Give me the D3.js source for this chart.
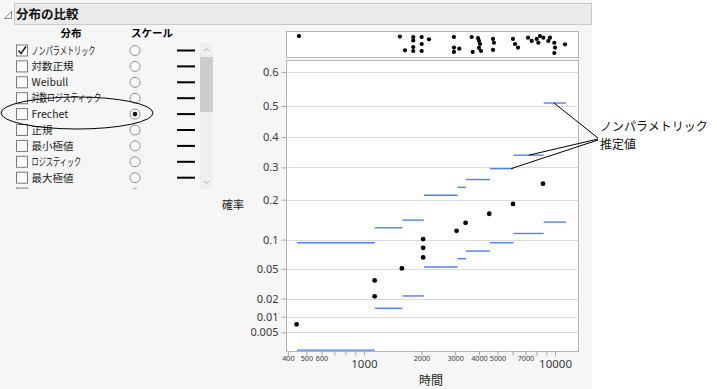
<!DOCTYPE html>
<html>
<head>
<meta charset="utf-8">
<script src="https://cdn.jsdelivr.net/npm/d3@7"></script>
<style>
body { margin: 0; background: #fff; }
svg { display: block; font-family: "Noto Sans CJK JP", "Noto Sans", sans-serif; }
</style>
</head>
<body>
<script>
var W = 717, H = 389;

// left panel
var distNames = ["ノンパラメトリック", "対数正規", "Weibull", "対数ロジスティック", "Frechet", "正規", "最小極値", "ロジスティック", "最大極値", "指数"];
var distChecked = [true, false, false, false, false, false, false, false, false, false];
var scaleChoice = "Frechet";

// plot data
var eventTimes = [444, 1138, 1138, 1580, 2042, 2042, 2042, 3054, 3404, 4526, 6026, 8650];
var eventProb  = [0.0072, 0.0216, 0.036, 0.0506, 0.0669, 0.0838, 0.101, 0.119, 0.138, 0.161, 0.188, 0.248];

var stepTimes = [446, 1140, 1590, 2060, 3090, 3420, 4560, 6070, 8720, 11420];
var upperBand = [0.0935, 0.126, 0.1446, 0.213, 0.237, 0.261, 0.296, 0.340, 0.509];
var lowerBand = [0.002, 0.014, 0.0219, 0.0525, 0.0649, 0.0778, 0.0935, 0.113, 0.1397];

var stripTimes  = [457, 1543, 1640, 1812, 1812, 1812, 1812, 2005, 2005, 2005, 2189, 2959, 2959, 2959, 3155, 3664, 3708,
                   3954, 4000, 4050, 4000, 4100, 4736, 4793, 4736, 6026, 6174, 6403, 7222, 7551, 8022, 8178, 8346, 8684,
                   9224, 9415, 9915, 10000, 9915, 11280];
var stripJitter = [0.06, 0.09, 0.85, 0.11, 0.3, 0.67, 0.89, 0.11, 0.5, 0.89, 0.24, 0.11, 0.7, 0.94, 0.76, 0.11, 0.94,
                   0.17, 0.33, 0.5, 0.72, 0.89, 0.22, 0.43, 0.83, 0.22, 0.5, 0.7, 0.15, 0.33, 0.22, 0.43, 0.06, 0.15,
                   0.33, 0.15, 0.43, 0.7, 1.0, 0.52];

var yTicks = [0.005, 0.01, 0.02, 0.05, 0.1, 0.2, 0.3, 0.4, 0.5, 0.6];
var xTicks = [400, 500, 600, 700, 800, 900, 1000, 2000, 3000, 4000, 5000, 6000, 7000, 8000, 9000, 10000];
var xTickLabels = ["400", "500", "600", "", "", "", "1000", "2000", "3000", "4000", "5000", "", "7000", "", "", "10000"];
var xMajor = [1000, 10000];

var calloutTimes = [9880, 7300, 5890];
var calloutProb  = [0.509, 0.34, 0.296];

var plot = { left: 286, right: 578, top: 60, bottom: 351 };
var strip = { top: 31, bottom: 57 };

var svg = d3.select("body").append("svg")
    .attr("width", W)
    .attr("height", H);

svg.append("rect").attr("width", W).attr("height", H).attr("fill", "#fff");
svg.append("rect").attr("width", 592).attr("height", H).attr("fill", "#f6f6f6");

// header bar
svg.append("rect")
    .attr("x", 14.5).attr("y", 3.5).attr("width", 577).attr("height", 21)
    .attr("fill", "#ebebeb").attr("stroke", "#c9c9c9");
svg.append("path")
    .attr("d", "M4.5,18.5 L11.5,18.5 L11.5,11.5 Z")
    .attr("fill", "none").attr("stroke", "#8a8a8a");
svg.append("text")
    .attr("x", 16).attr("y", 19)
    .attr("font-size", 12.5).attr("font-weight", "bold").attr("fill", "#111")
    .text("分布の比較");

// distribution list
var panel = svg.append("g");
panel.append("text").attr("x", 71).attr("y", 37).attr("text-anchor", "middle")
    .attr("font-size", 10.5).attr("font-weight", "bold").text("分布");
panel.append("text").attr("x", 152).attr("y", 37).attr("text-anchor", "middle")
    .attr("font-size", 10.5).attr("font-weight", "bold").text("スケール");

svg.append("clipPath").attr("id", "listClip")
    .append("rect").attr("x", 0).attr("y", 40).attr("width", 200).attr("height", 149);

var rowY = d3.scaleLinear().domain([0, 1]).range([50.5, 66.4]);

var rows = panel.append("g").attr("clip-path", "url(#listClip)")
    .selectAll("g")
    .data(distNames)
    .enter()
    .append("g")
    .attr("transform", function(d, i) { return "translate(0," + rowY(i) + ")"; });

rows.append("rect")
    .attr("x", 16.5).attr("y", -5.5).attr("width", 11).attr("height", 11)
    .attr("fill", "#fff").attr("stroke", "#7a7a7a");
rows.filter(function(d, i) { return distChecked[i]; })
    .append("path")
    .attr("d", "M18.5,0 L21,3 L26,-4")
    .attr("fill", "none").attr("stroke", "#222").attr("stroke-width", 1.6);

// the UI font packs katakana narrow, so squeeze those labels
function kanaWidth(s) {
    var w = 0;
    for (var k = 0; k < s.length; k++) {
        var c = s.charCodeAt(k);
        w += (c >= 0x30A0 && c <= 0x30FF) ? 7.1 : 10;
    }
    return w;
}
rows.append("text")
    .attr("x", 31.5).attr("y", 4)
    .attr("font-size", function(d) { return /[\u30A0-\u30FF]/.test(d) ? 11 : 10.5; })
    .attr("fill", "#222")
    .text(function(d) { return d; })
    .each(function(d) {
        if (/[\u30A0-\u30FF]/.test(d)) {
            d3.select(this).attr("textLength", kanaWidth(d)).attr("lengthAdjust", "spacingAndGlyphs");
        }
    });
rows.append("circle")
    .attr("cx", 135).attr("cy", 0).attr("r", 5)
    .attr("fill", "#fff").attr("stroke", "#8f8f8f");
rows.filter(function(d) { return d === scaleChoice; })
    .append("circle")
    .attr("cx", 135).attr("cy", 0).attr("r", 2.3)
    .attr("fill", "#111");
rows.append("line")
    .attr("x1", 177).attr("x2", 195).attr("y1", 0).attr("y2", 0)
    .attr("stroke", "#000").attr("stroke-width", 2);

// scrollbar
panel.append("rect").attr("x", 200).attr("y", 43).attr("width", 13).attr("height", 146).attr("fill", "#efefef");
panel.append("rect").attr("x", 200).attr("y", 57).attr("width", 13).attr("height", 55).attr("fill", "#cdcdcd");
panel.append("path").attr("d", "M204,51 L206.5,48.5 L209,51").attr("fill", "none").attr("stroke", "#a8a8a8");
panel.append("path").attr("d", "M204,181 L206.5,183.5 L209,181").attr("fill", "none").attr("stroke", "#a8a8a8");

// highlight ellipse round Frechet
panel.append("ellipse")
    .attr("cx", 77).attr("cy", 113).attr("rx", 76).attr("ry", 16)
    .attr("fill", "none").attr("stroke", "#000").attr("stroke-width", 1);

// scales
function frechetZ(p) { return -Math.log(-Math.log(p)); }

var x = d3.scaleLog()
    .domain([391, 13190])
    .range([plot.left, plot.right]);

var yz = d3.scaleLinear()
    .domain([frechetZ(0.0019), frechetZ(0.632)])
    .range([plot.bottom, plot.top]);

function y(p) { return yz(frechetZ(p)); }

var jit = d3.scaleLinear().domain([0, 1]).range([35, 53]);

// top strip
svg.append("rect")
    .attr("x", plot.left + 0.5).attr("y", strip.top + 0.5)
    .attr("width", plot.right - plot.left).attr("height", strip.bottom - strip.top)
    .attr("fill", "#fff").attr("stroke", "#b4b4b4");

svg.append("g")
    .selectAll("circle")
    .data(stripTimes)
    .enter()
    .append("circle")
    .attr("cx", function(d) { return x(d); })
    .attr("cy", function(d, i) { return jit(stripJitter[i]); })
    .attr("r", 2.1)
    .attr("fill", "#000");

// plot frame
svg.append("rect")
    .attr("x", plot.left + 0.5).attr("y", plot.top + 0.5)
    .attr("width", plot.right - plot.left).attr("height", plot.bottom - plot.top)
    .attr("fill", "#fff").attr("stroke", "#b4b4b4");

// grid
svg.append("g")
    .selectAll("line")
    .data(yTicks)
    .enter()
    .append("line")
    .attr("x1", plot.left + 1).attr("x2", plot.right)
    .attr("y1", function(d) { return Math.round(y(d)) + 0.5; })
    .attr("y2", function(d) { return Math.round(y(d)) + 0.5; })
    .attr("stroke", "#dcdcdc");

// y axis
var yAxis = svg.append("g")
    .attr("transform", "translate(" + (plot.left + 0.5) + ",0)")
    .call(d3.axisLeft(yz)
        .tickValues(yTicks.map(frechetZ))
        .tickFormat(function(d, i) { return String(yTicks[i]); })
        .tickSize(5)
        .tickPadding(3));
yAxis.select(".domain").remove();
yAxis.selectAll("line").attr("stroke", "#a8a8a8");
yAxis.selectAll("text")
    .attr("font-family", "Noto Sans, sans-serif")
    .attr("font-size", 11).attr("fill", "#3a3a3a");

// x axis
var xAxis = svg.append("g")
    .attr("transform", "translate(0," + (plot.bottom + 0.5) + ")")
    .call(d3.axisBottom(x)
        .tickValues(xTicks)
        .tickFormat(function(d, i) { return xTickLabels[i]; })
        .tickSize(4)
        .tickPadding(2));
xAxis.select(".domain").remove();
xAxis.selectAll("line").attr("stroke", "#a8a8a8");
xAxis.selectAll("text")
    .attr("font-family", "Noto Sans, sans-serif")
    .attr("fill", "#3a3a3a")
    .attr("font-size", function(d) { return xMajor.indexOf(d) >= 0 ? 11.5 : 7.2; })
    .attr("y", function(d) { return xMajor.indexOf(d) >= 0 ? 8 : 4; });

svg.append("text")
    .attr("x", 233).attr("y", 209)
    .attr("text-anchor", "middle").attr("font-size", 11).attr("fill", "#222")
    .text("確率");
svg.append("text")
    .attr("x", 431).attr("y", 385)
    .attr("text-anchor", "middle").attr("font-size", 12).attr("fill", "#222")
    .text("時間");

// nonparametric bands
var steps = d3.range(upperBand.length);
var bands = svg.append("g").attr("stroke", "#4d80f2").attr("stroke-width", 1.4);
bands.selectAll("line.up")
    .data(steps)
    .enter()
    .append("line")
    .attr("class", "up")
    .attr("x1", function(i) { return x(stepTimes[i]); })
    .attr("x2", function(i) { return x(stepTimes[i + 1]); })
    .attr("y1", function(i) { return y(upperBand[i]); })
    .attr("y2", function(i) { return y(upperBand[i]); });
bands.selectAll("line.lo")
    .data(steps)
    .enter()
    .append("line")
    .attr("class", "lo")
    .attr("x1", function(i) { return x(stepTimes[i]); })
    .attr("x2", function(i) { return x(stepTimes[i + 1]); })
    .attr("y1", function(i) { return y(lowerBand[i]); })
    .attr("y2", function(i) { return y(lowerBand[i]); });

// estimates
svg.append("g")
    .selectAll("circle")
    .data(eventTimes)
    .enter()
    .append("circle")
    .attr("cx", function(d) { return x(d); })
    .attr("cy", function(d, i) { return y(eventProb[i]); })
    .attr("r", 2.4)
    .attr("fill", "#000");

// callout
svg.append("g")
    .selectAll("line")
    .data(calloutTimes)
    .enter()
    .append("line")
    .attr("x1", 598).attr("y1", function(d, i) { return 138 + i; })
    .attr("x2", function(d) { return x(d); })
    .attr("y2", function(d, i) { return y(calloutProb[i]); })
    .attr("stroke", "#000").attr("stroke-width", 1);

svg.append("text").attr("x", 600).attr("y", 131)
    .attr("font-size", 12).attr("fill", "#111").text("ノンパラメトリック");
svg.append("text").attr("x", 600).attr("y", 149)
    .attr("font-size", 12).attr("fill", "#111").text("推定値");
</script>
</body>
</html>
